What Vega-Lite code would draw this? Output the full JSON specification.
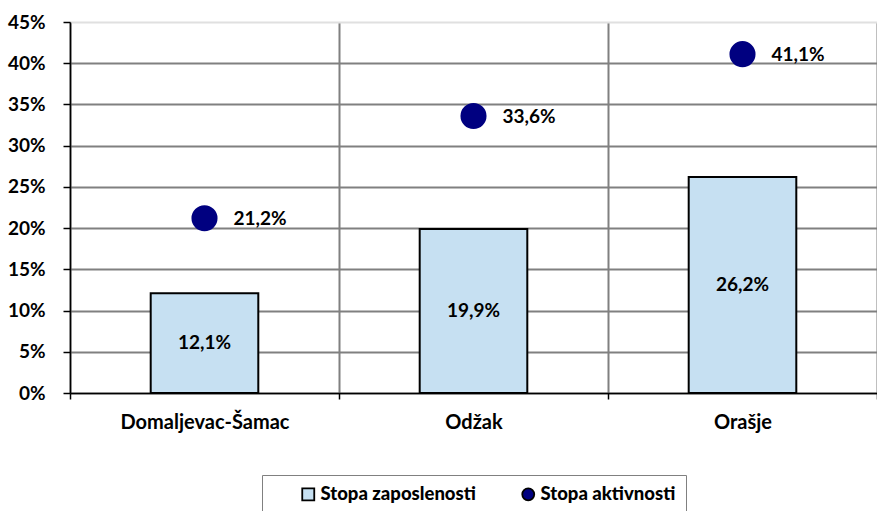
{
  "$schema": "https://vega.github.io/schema/vega-lite/v6.json",
  "autosize": {"type": "none"},
  "padding": {"left": 70, "top": 22, "right": 0, "bottom": 118},
  "width": 807,
  "height": 371,
  "config": {
    "locale": {"number": {"decimal": ",", "thousands": ".", "grouping": [3], "currency": ["", ""]}},
    "view": {"stroke": null},
    "font": "Lato",
    "axis": {"labelFont": "Lato", "labelFontWeight": "bold", "labelColor": "black", "domainColor": "black", "domainWidth": 1.5, "tickColor": "black", "tickWidth": 1.5}
  },
  "data": {
    "values": [
      {"region": "Domaljevac-Šamac", "series": "Stopa zaposlenosti", "value": 0.121},
      {"region": "Odžak", "series": "Stopa zaposlenosti", "value": 0.199},
      {"region": "Orašje", "series": "Stopa zaposlenosti", "value": 0.262},
      {"region": "Domaljevac-Šamac", "series": "Stopa aktivnosti", "value": 0.212},
      {"region": "Odžak", "series": "Stopa aktivnosti", "value": 0.336},
      {"region": "Orašje", "series": "Stopa aktivnosti", "value": 0.411}
    ]
  },
  "encoding": {
    "x": {
      "field": "region", "type": "nominal", "sort": null,
      "scale": {"paddingInner": 0, "paddingOuter": 0},
      "axis": {"title": null, "labelAngle": 0, "labelFontSize": 20, "labelPadding": 13, "tickBand": "extent", "tickSize": 6, "grid": true, "gridColor": "#808080", "gridWidth": 2}
    }
  },
  "resolve": {"scale": {"y": "independent"}},
  "layer": [
    {
      "layer": [
        {
          "transform": [{"filter": "datum.series === 'Stopa zaposlenosti'"}],
          "mark": {"type": "bar", "width": {"band": 0.4}, "stroke": "black", "strokeWidth": 2},
          "encoding": {
            "y": {
              "field": "value", "type": "quantitative",
              "scale": {"domain": [0, 0.45], "nice": false},
              "axis": {"title": null, "values": [0, 0.05, 0.1, 0.15, 0.2, 0.25, 0.3, 0.35, 0.4, 0.45], "format": ".0%", "labelFontSize": 19, "labelPadding": 18, "tickSize": 7, "grid": true, "gridColor": {"condition": {"test": "datum.value >= 0.449", "value": "#e0e0e0"}, "value": "#808080"}, "gridWidth": 2}
            },
            "color": {
              "field": "series", "type": "nominal",
              "scale": {"domain": ["Stopa zaposlenosti", "Stopa aktivnosti"], "range": ["#C6E0F2", "#000080"]},
              "legend": {"title": null, "orient": "none", "legendX": 192, "legendY": 453, "direction": "horizontal", "columns": 2, "gridAlign": "all", "strokeColor": "#808080", "fillColor": "white", "padding": 10, "symbolOffset": 27, "columnPadding": 16, "labelFont": "Lato", "labelFontWeight": 900, "labelFontSize": 18.5, "labelColor": "black", "symbolSize": 144, "symbolStrokeColor": "black", "symbolStrokeWidth": 1.8, "labelOffset": 3}
            }
          }
        },
        {
          "transform": [{"filter": "datum.series === 'Stopa aktivnosti'"}],
          "mark": {"type": "point", "filled": true, "size": 680, "opacity": 1},
          "encoding": {
            "y": {"field": "value", "type": "quantitative"},
            "color": {"field": "series", "type": "nominal"},
            "shape": {"field": "series", "type": "nominal", "scale": {"domain": ["Stopa zaposlenosti", "Stopa aktivnosti"], "range": ["square", "circle"]}, "legend": {"title": null}}
          }
        },
        {
          "transform": [{"filter": "datum.series === 'Stopa aktivnosti'"}],
          "mark": {"type": "text", "fontWeight": "bold", "fontSize": 19, "color": "black", "align": "left", "dx": 29, "dy": 1},
          "encoding": {
            "y": {"field": "value", "type": "quantitative"},
            "text": {"field": "value", "type": "quantitative", "format": ".1%"}
          }
        }
      ]
    },
    {
      "transform": [{"filter": "datum.series === 'Stopa zaposlenosti'"}],
      "mark": {"type": "text", "fontWeight": "bold", "fontSize": 19, "color": "black"},
      "encoding": {
        "y": {"field": "value", "type": "quantitative", "scale": {"domain": [0, 0.9], "nice": false}, "axis": null},
        "text": {"field": "value", "type": "quantitative", "format": ".1%"}
      }
    }
  ]
}
